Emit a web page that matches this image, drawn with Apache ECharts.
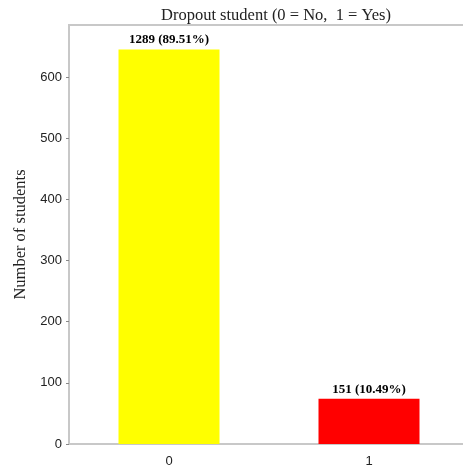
<!DOCTYPE html>
<html><head><meta charset="utf-8">
<script src="https://cdn.jsdelivr.net/npm/echarts@6/dist/echarts.min.js"></script>
<style>html,body{margin:0;padding:0;background:#fff;overflow:hidden}#c{width:470px;height:470px}</style>
</head><body><div id="c"></div>
<script>
const categories = ['0', '1'];
const values = [645, 74];
const barLabels = ['1289 (89.51%)', '151 (10.49%)'];
const barColors = ['#ffff00', '#ff0000'];
const yTicks = [0, 100, 200, 300, 400, 500, 600];

const chart = echarts.init(document.getElementById('c'), null, {renderer: 'canvas'});
chart.setOption({
  animation: false,
  backgroundColor: '#fff',
  title: {
    text: 'Dropout student (0 = No,  1 = Yes)',
    left: 271, top: 2, textAlign: 'center',
    textStyle: {fontFamily: 'Liberation Serif', fontSize: 16.5, fontWeight: 'normal', color: '#222'}
  },
  grid: {left: 69, right: 1, top: 25, bottom: 26, show: true, borderColor: '#c8c8c8', borderWidth: 2, backgroundColor: 'transparent'},
  xAxis: {
    type: 'category', data: categories,
    axisLine: {lineStyle: {color: '#c8c8c8', width: 2}},
    axisTick: {alignWithLabel: true, length: 3, lineStyle: {color: '#888'}},
    axisLabel: {fontFamily: 'Liberation Sans', fontSize: 13, color: '#222', margin: 11}
  },
  yAxis: {
    type: 'value', min: 0, max: 685, interval: 100,
    name: 'Number of students', nameLocation: 'middle', nameGap: 39,
    nameTextStyle: {fontFamily: 'Liberation Serif', fontSize: 16.5, color: '#222'},
    axisLine: {show: true, lineStyle: {color: '#c8c8c8', width: 2}},
    axisTick: {show: true, length: 3, lineStyle: {color: '#888'}},
    splitLine: {show: false},
    axisLabel: {
      fontFamily: 'Liberation Sans', fontSize: 13, color: '#222', margin: 7, showMaxLabel: false,
      formatter: v => yTicks.indexOf(v) >= 0 ? String(v) : ''
    }
  },
  series: [{
    type: 'bar', barWidth: 101,
    data: values.map((v, i) => ({value: v, itemStyle: {color: barColors[i]}})),
    label: {
      show: true, position: 'top', distance: 3,
      formatter: p => barLabels[p.dataIndex],
      fontFamily: 'Liberation Serif', fontSize: 13, fontWeight: 'bold', color: '#000'
    }
  }]
});
</script></body></html>
